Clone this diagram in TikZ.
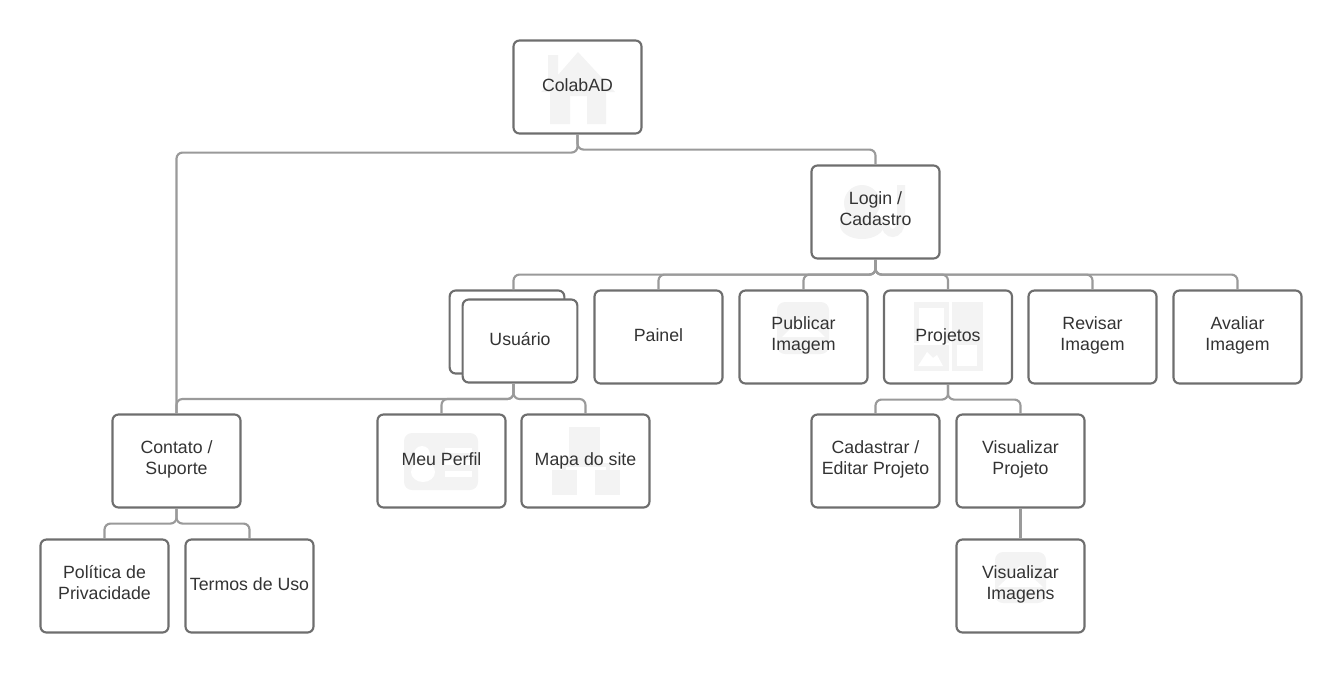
\documentclass[tikz,border=0pt]{standalone}
\usepackage{fontspec}
\setmainfont{Liberation Sans}
\definecolor{boxline}{HTML}{6E6E6E}
\definecolor{linkline}{HTML}{9A9A9A}
\definecolor{icongray}{HTML}{F3F3F3}
\definecolor{labeltext}{HTML}{333333}
\tikzset{
  pagebox/.style={draw=boxline, line width=1.6pt, rounded corners=4.5pt, minimum width=96pt, minimum height=69.75pt, inner sep=0pt, align=center, text=labeltext, text depth=5.5pt, font=\fontsize{13.3}{15.75}\selectfont},
  oneline/.style={text depth=2.5pt},
  link/.style={draw=linkline, line width=1.6pt, rounded corners=4.5pt},
  icon/.style={fill=icongray, draw=none},
  hole/.style={fill=white, draw=none}
}
\begin{document}
\begin{tikzpicture}[x=0.75pt, y=-0.75pt]
    \useasboundingbox (0,0) rectangle (1341,672);

    % faint icons behind the labels
    \fill[icon] (541,92) -- (548,85) -- (548,55) -- (558,55) -- (558,75) -- (578,52) -- (615,92) -- (606,92) -- (606,124) -- (587,124) -- (587,96) -- (570,96) -- (570,124) -- (550,124) -- (550,92) -- cycle;

    \fill[icon] (862,203) circle (18);
    \fill[icon] (862,225) ellipse (22 and 14);
    \draw[icongray, line width=6pt] (901,185) -- (901,220) .. controls (901,237) and (885,237) .. (885,222);

    \fill[icon, rounded corners=6pt] (777,302) rectangle (829,354);
    \fill[hole] (782,337) -- (803,316) -- (825,337) -- cycle;

    \fill[icon] (914,302) rectangle (949,343);
    \fill[hole] (919,308) rectangle (944,343);
    \fill[icon] (914,345) rectangle (949,371);
    \fill[hole] (918,366) -- (927,352) -- (933,358) -- (937,355) -- (943,366) -- cycle;
    \fill[icon] (952,302) rectangle (983,371);
    \fill[hole] (957,345) rectangle (977,366);

    \fill[icon, rounded corners=6pt] (404,433) rectangle (478,490);
    \fill[hole] (422,454) circle (8);
    \fill[hole] (423,472) ellipse (12 and 10);
    \fill[hole] (445,448) rectangle (472,453);
    \fill[hole] (445,460) rectangle (472,465);
    \fill[hole] (445,471) rectangle (472,477);

    \fill[icon] (569,427) rectangle (600,463);
    \fill[icon] (552,470) rectangle (577,495);
    \fill[icon] (595,470) rectangle (620,495);
    \draw[icongray, line width=3pt] (564,470) -- (564,465) -- (608,465) -- (608,470);

    \fill[icon, rounded corners=6pt] (995,552) rectangle (1046,603);
    \fill[hole] (998,587) -- (1020,566) -- (1043,587) -- cycle;

    % pages
    \node[pagebox, oneline] (colabad) at (577.5,87) {ColabAD};
    \node[pagebox] (login) at (875.5,212) {Login /\\Cadastro};

    \node[pagebox, minimum width=86pt, minimum height=62.25pt] (usuarioback) at (507,332) {};
    \node[pagebox, oneline, minimum width=86pt, minimum height=62.25pt, fill=white] (usuario) at (520,341) {Usuário};
    \coordinate (usuariotop) at (513.5,290);
    \coordinate (usuariobase) at (513.5,384);

    \node[pagebox, oneline] (painel) at (658.5,337) {Painel};
    \node[pagebox] (publicar) at (803.5,337) {Publicar\\Imagem};
    \node[pagebox, oneline] (projetos) at (948,337) {Projetos};
    \node[pagebox] (revisar) at (1092.5,337) {Revisar\\Imagem};
    \node[pagebox] (avaliar) at (1237.5,337) {Avaliar\\Imagem};

    \node[pagebox] (contato) at (176.5,461) {Contato /\\Suporte};
    \node[pagebox, oneline] (perfil) at (441.5,461) {Meu Perfil};
    \node[pagebox, oneline] (mapa) at (585.5,461) {Mapa do site};
    \node[pagebox] (cadastrar) at (875.5,461) {Cadastrar /\\Editar Projeto};
    \node[pagebox] (visprojeto) at (1020.5,461) {Visualizar\\Projeto};

    \node[pagebox] (politica) at (104.5,586) {Política de\\Privacidade};
    \node[pagebox, oneline] (termos) at (249.5,586) {Termos de Uso};
    \node[pagebox] (visimagens) at (1020.5,586) {Visualizar\\Imagens};

    % connectors
    \draw[link] (colabad.south) -- ++(0,18) -| (contato.north);
    \draw[link] (colabad.south) -- ++(0,15) -| (login.north);

    \draw[link] (login.south) -- ++(0,15) -| (usuariotop);
    \draw[link] (login.south) -- ++(0,15) -| (painel.north);
    \draw[link] (login.south) -- ++(0,15) -| (publicar.north);
    \draw[link] (login.south) -- ++(0,15) -| (projetos.north);
    \draw[link] (login.south) -- ++(0,15) -| (revisar.north);
    \draw[link] (login.south) -- ++(0,15) -| (avaliar.north);

    \draw[link] (usuariobase) -- ++(0,15) -| (contato.north);
    \draw[link] (usuariobase) -- ++(0,15) -| (perfil.north);
    \draw[link] (usuariobase) -- ++(0,15) -| (mapa.north);

    \draw[link] (projetos.south) -- ++(0,15) -| (cadastrar.north);
    \draw[link] (projetos.south) -- ++(0,15) -| (visprojeto.north);
    \draw[link] (visprojeto.south) -- (visimagens.north);

    \draw[link] (contato.south) -- ++(0,15) -| (politica.north);
    \draw[link] (contato.south) -- ++(0,15) -| (termos.north);
\end{tikzpicture}
\end{document}
